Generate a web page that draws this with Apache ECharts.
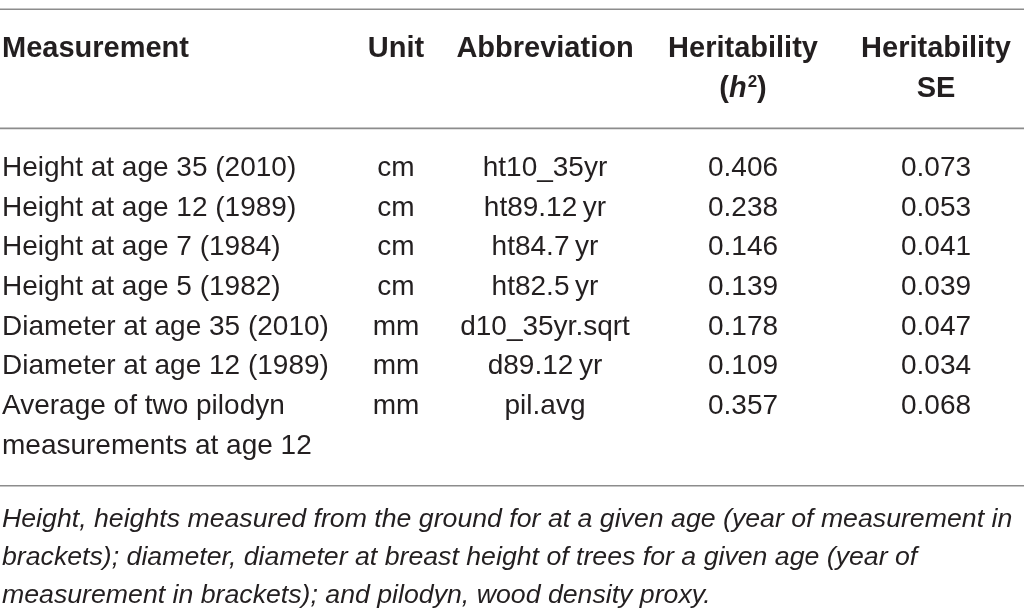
<!DOCTYPE html>
<html><head><meta charset="utf-8">
<script src="https://cdn.jsdelivr.net/npm/echarts@6/dist/echarts.min.js"></script>
<style>html,body{margin:0;padding:0;background:#fff}#c{width:1024px;height:616px}</style>
</head><body><div id="c"></div>
<script>
// ---- data ----
const headerLine1 = ['Measurement', 'Unit', 'Abbreviation', 'Heritability', 'Heritability'];
const headerLine2 = ['', '', '', '({i|h}{s|2})', 'SE'];
const measurements = [
  'Height at age 35 (2010)',
  'Height at age 12 (1989)',
  'Height at age 7 (1984)',
  'Height at age 5 (1982)',
  'Diameter at age 35 (2010)',
  'Diameter at age 12 (1989)',
  'Average of two pilodyn\nmeasurements at age 12'
];
const units = ['cm', 'cm', 'cm', 'cm', 'mm', 'mm', 'mm'];
const abbreviations = ['ht10_35yr', 'ht89.12\u2009yr', 'ht84.7\u2009yr', 'ht82.5\u2009yr', 'd10_35yr.sqrt', 'd89.12\u2009yr', 'pil.avg'];
const heritability = [0.406, 0.238, 0.146, 0.139, 0.178, 0.109, 0.357];
const heritabilitySE = [0.073, 0.053, 0.041, 0.039, 0.047, 0.034, 0.068];
const footnoteLines = [
  'Height, heights measured from the ground for at a given age (year of measurement in',
  'brackets); diameter, diameter at breast height of trees for a given age (year of',
  'measurement in brackets); and pilodyn, wood density proxy.'
];

// ---- layout (table structure in row units / x pixels) ----
const LAYOUT = {
  colX: [2, 396, 545, 743, 936],
  colAlign: ['left', 'center', 'center', 'center', 'center'],
  headerRow: 0,
  firstDataRow: 3,
  ruleRows: [-1, 2, 11],
  footnoteRow: 11.86,
  footnoteLineHeight: 38,
  yMin: -1.2343,
  yMax: 14.282
};
const FONT = '"Liberation Sans", Arial, sans-serif';
const INK = '#231f20';

// build cells
const cells = [];
headerLine1.forEach((t, c) => cells.push({ x: LAYOUT.colX[c], row: LAYOUT.headerRow, text: t, align: LAYOUT.colAlign[c], kind: 'head' }));
headerLine2.forEach((t, c) => { if (t) cells.push({ x: LAYOUT.colX[c], row: LAYOUT.headerRow + 1, text: t, align: LAYOUT.colAlign[c], kind: 'head' }); });
const columns = [measurements, units, abbreviations, heritability.map(v => v.toFixed(3)), heritabilitySE.map(v => v.toFixed(3))];
columns.forEach((col, c) => col.forEach((t, r) => cells.push({ x: LAYOUT.colX[c], row: LAYOUT.firstDataRow + r, text: String(t), align: LAYOUT.colAlign[c], kind: 'body' })));
cells.push({ x: LAYOUT.colX[0], row: LAYOUT.footnoteRow, text: footnoteLines.join('\n'), align: 'left', kind: 'foot' });

const chart = echarts.init(document.getElementById('c'), null, { renderer: 'canvas' });
chart.setOption({
  animation: false,
  backgroundColor: '#ffffff',
  grid: { left: 0, right: 0, top: 0, bottom: 0 },
  xAxis: { type: 'value', min: 0, max: 1024, show: false },
  yAxis: { type: 'value', min: LAYOUT.yMin, max: LAYOUT.yMax, inverse: true, show: false },
  series: [
    {
      type: 'custom',
      coordinateSystem: 'cartesian2d',
      clip: false,
      silent: true,
      data: LAYOUT.ruleRows.map(r => [0, r]),
      renderItem: function (params, api) {
        const a = api.coord([0, api.value(1)]);
        const b = api.coord([1024, api.value(1)]);
        return { type: 'line', shape: { x1: a[0], y1: a[1], x2: b[0], y2: b[1] }, style: { stroke: '#8c8c8c', lineWidth: 1.6 } };
      }
    },
    {
      type: 'custom',
      coordinateSystem: 'cartesian2d',
      clip: false,
      silent: true,
      data: cells.map(c => [c.x, c.row]),
      renderItem: function (params, api) {
        const c = cells[params.dataIndex];
        const p = api.coord([api.value(0), api.value(1)]);
        const unitPx = api.size([0, 1])[1];
        let style;
        if (c.kind === 'head') {
          style = {
            text: c.text, fill: INK, font: 'bold 29px ' + FONT, align: c.align, verticalAlign: 'middle',
            rich: {
              i: { fontStyle: 'italic', fontWeight: 'bold', fontSize: 29, fontFamily: FONT, fill: INK },
              s: { fontWeight: 'bold', fontSize: 17, fontFamily: FONT, fill: INK, verticalAlign: 'top', padding: [0, 0, 12, 1] }
            }
          };
          return { type: 'text', x: p[0], y: p[1], style: style };
        } else if (c.kind === 'body') {
          style = { text: c.text, fill: INK, font: '28px ' + FONT, align: c.align, verticalAlign: 'top', lineHeight: unitPx };
          return { type: 'text', x: p[0], y: p[1] - unitPx / 2, style: style };
        } else {
          style = { text: c.text, fill: INK, font: 'italic 26.7px ' + FONT, align: 'left', verticalAlign: 'top', lineHeight: LAYOUT.footnoteLineHeight };
          return { type: 'text', x: p[0], y: p[1] - LAYOUT.footnoteLineHeight / 2, style: style };
        }
      }
    }
  ]
});
</script>
</body></html>
